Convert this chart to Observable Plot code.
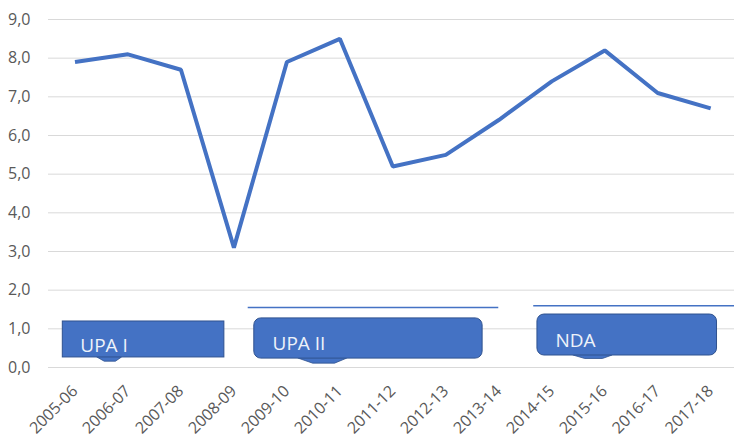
<!DOCTYPE html>
<html>
<head>
<meta charset="utf-8">
<script src="https://cdn.jsdelivr.net/npm/d3@7"></script>
<script src="https://cdn.jsdelivr.net/npm/@observablehq/plot@0.6"></script>
<style>
  html, body { margin: 0; padding: 0; background: #ffffff; }
  #chart svg { display: block; }
</style>
</head>
<body>
<div id="chart"></div>
<script>
// ---- data ----
const years = ["2005-06","2006-07","2007-08","2008-09","2009-10","2010-11","2011-12","2012-13","2013-14","2014-15","2015-16","2016-17","2017-18"];
const values = [7.9, 8.1, 7.7, 3.1, 7.9, 8.5, 5.2, 5.5, 6.4, 7.4, 8.2, 7.1, 6.7];
const yTicks = [0, 1, 2, 3, 4, 5, 6, 7, 8, 9];

// annotation callouts (in category-index / value units)
const annLabels = ["UPA I", "UPA II", "NDA"];
const annX1 = [-0.23, 3.385, 8.73];
const annX2 = [2.82, 7.695, 12.12];
const annTop = [1.19, 1.27, 1.37];
const annBottom = [0.26, 0.23, 0.31];
const annRounded = [false, true, true];
const annTextX = [0.1, 3.73, 9.07];
const annTextY = [0.57, 0.62, 0.70];
const tailX1 = [0.42, 4.22, 9.41];
const tailX2 = [0.89, 5.14, 10.15];
const tailTip = [0.15, 0.10, 0.22];
// thin period lines above the boxes
const periodLineX1 = [3.27, 8.66];
const periodLineX2 = [8.0, 12.5];
const periodLineY = [1.55, 1.60];

const series = years.map((y, i) => ({i, year: y, value: values[i]}));
const boxes = annLabels.map((label, k) => ({label, x1: annX1[k], x2: annX2[k], y1: annBottom[k], y2: annTop[k], rounded: annRounded[k], tx: annTextX[k], ty: annTextY[k]}));
const tails = [];
annLabels.forEach((label, k) => {
  const a = tailX1[k], b = tailX2[k], w = b - a;
  tails.push({k, x: a, y1: annBottom[k] + 0.03, y2: annBottom[k]});
  tails.push({k, x: a + w * 0.3, y1: annBottom[k] + 0.03, y2: tailTip[k]});
  tails.push({k, x: a + w * 0.75, y1: annBottom[k] + 0.03, y2: tailTip[k]});
  tails.push({k, x: b, y1: annBottom[k] + 0.03, y2: annBottom[k]});
});
const periodLines = periodLineX1.map((x1, k) => ({x1, x2: periodLineX2[k], y: periodLineY[k]}));

const blue = "#4472C4";
const border = "#2F528F";
const fontFamily = "'Open Sans', 'Noto Sans', sans-serif";

const chart = Plot.plot({
  width: 734,
  height: 442,
  marginLeft: 48,
  marginRight: 0,
  marginTop: 19,
  marginBottom: 75,
  style: {fontFamily, fontSize: "16px", color: "#595959", background: "#ffffff"},
  x: {
    type: "linear",
    domain: [-0.5, 12.45],
    ticks: d3.range(years.length),
    tickFormat: i => years[i],
    tickRotate: -45,
    tickSize: 0,
    tickPadding: 21,
    label: null
  },
  y: {
    domain: [0, 9],
    ticks: yTicks,
    tickFormat: d => d.toFixed(1).replace(".", ","),
    tickSize: 0,
    tickPadding: 18,
    label: null
  },
  marks: [
    Plot.gridY(yTicks, {stroke: "#d9d9d9", strokeOpacity: 1, strokeWidth: 1}),
    Plot.ruleY(periodLines, {y: "y", x1: "x1", x2: "x2", stroke: blue, strokeWidth: 1.5}),
    Plot.areaY(tails, {x: "x", y1: "y1", y2: "y2", z: "k", fill: blue, stroke: border, strokeWidth: 0.8}),
    Plot.rect(boxes.filter(d => !d.rounded), {x1: "x1", x2: "x2", y1: "y1", y2: "y2", fill: blue, stroke: border, strokeWidth: 1}),
    Plot.rect(boxes.filter(d => d.rounded), {x1: "x1", x2: "x2", y1: "y1", y2: "y2", fill: blue, stroke: border, strokeWidth: 1, rx: 7, ry: 7}),
    Plot.text(boxes, {x: "tx", y: "ty", text: "label", fill: "#eef2fa", textAnchor: "start", fontSize: 19, fontFamily}),
    Plot.line(series, {x: "i", y: "value", stroke: blue, strokeWidth: 4, strokeLinejoin: "miter", strokeLinecap: "butt"})
  ]
});
document.getElementById("chart").appendChild(chart);
</script>
</body>
</html>
